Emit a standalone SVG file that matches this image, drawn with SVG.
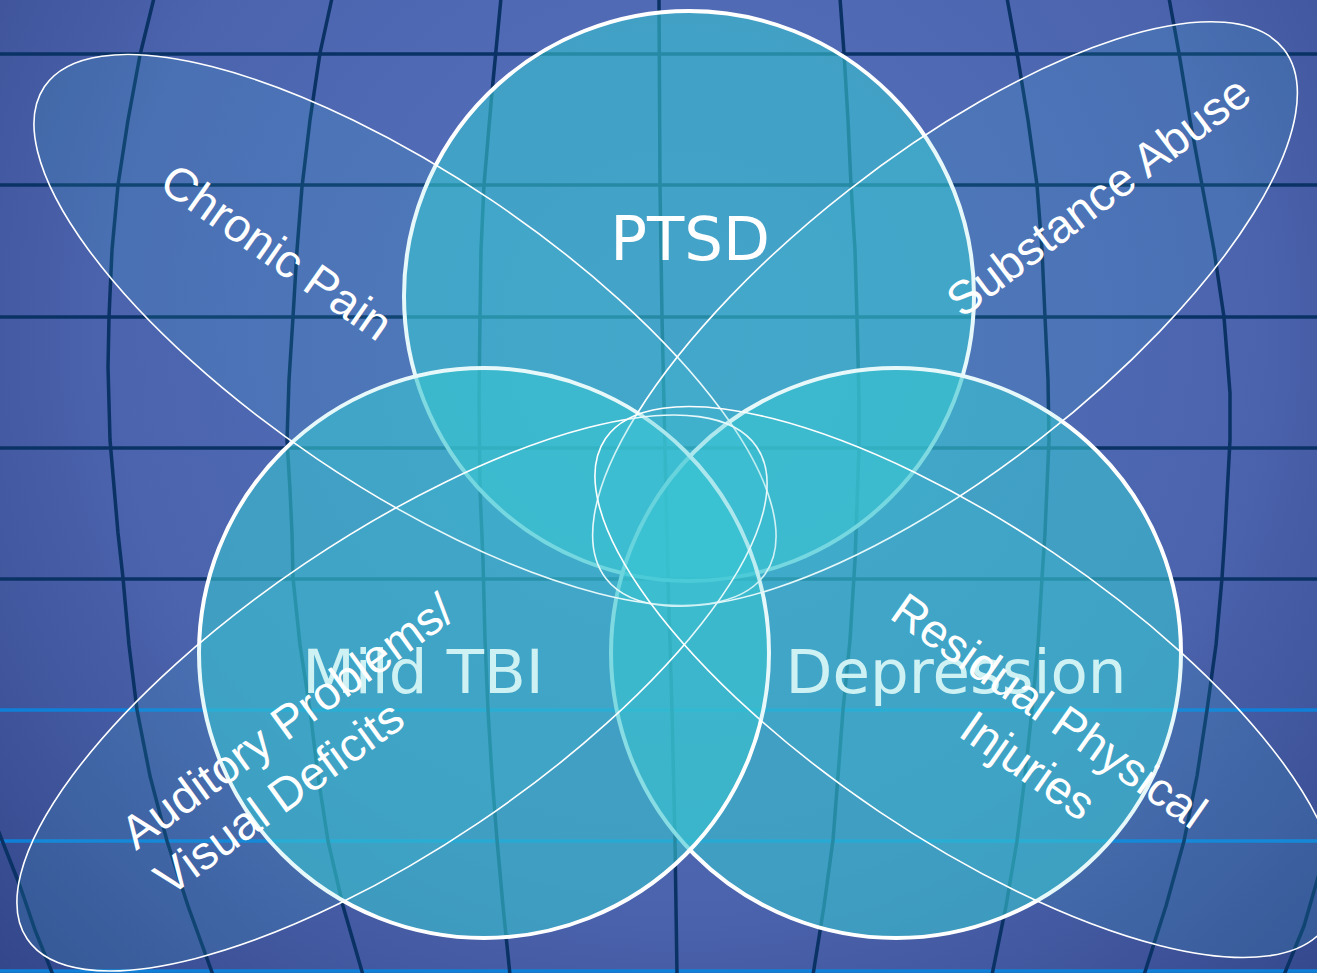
<svg xmlns="http://www.w3.org/2000/svg" width="1317" height="973" viewBox="0 0 1317 973">
<defs>
<radialGradient id="bg" cx="680" cy="330" r="940" gradientUnits="userSpaceOnUse">
<stop offset="0" stop-color="#5672be"/>
<stop offset="0.6" stop-color="#4c64ae"/>
<stop offset="1" stop-color="#33468a"/>
</radialGradient>
<style>
.vl{fill:none;stroke:#0a3264;stroke-width:3.5;stroke-linejoin:round;stroke-linecap:round}
.hl{stroke:#0a3264;stroke-width:3.5}
.hb{stroke:#0f80d8;stroke-width:3.5}
.circ{fill:#39c5d1;fill-opacity:0.6;stroke:#ffffff;stroke-width:4}
.ell{fill:#3cc8d8;fill-opacity:0.13;stroke:#ffffff;stroke-width:1.6}
.big{font-family:"DejaVu Sans",Verdana,sans-serif;font-size:61px;fill:#ffffff;text-anchor:middle}
.soft{fill:#e4f7f8}
.lab{font-family:"Liberation Sans",Arial,sans-serif;font-size:47px;fill:#ffffff}
</style>
</defs>
<rect width="1317" height="973" fill="url(#bg)"/>
<g id="grid">
<line class="hl" x1="0" y1="54" x2="1317" y2="54"/>
<line class="hl" x1="0" y1="185" x2="1317" y2="185"/>
<line class="hl" x1="0" y1="317" x2="1317" y2="317"/>
<line class="hl" x1="0" y1="448" x2="1317" y2="448"/>
<line class="hl" x1="0" y1="579" x2="1317" y2="579"/>
<line class="hb" x1="0" y1="710" x2="1317" y2="710"/>
<line class="hb" x1="0" y1="841" x2="1317" y2="841"/>
<line class="hb" x1="0" y1="971" x2="1317" y2="971"/>
<polyline class="vl" points="154,-2 140,55 128,120 118,185 112,250 109,317 108,367 110,440 118,533 123,578 129,645 137,710 150,776 167,841 188,906 213,975"/>
<polyline class="vl" points="332,-2 320,53 310,120 302,187 297,250 293,317 289,380 287,440 290,490 292,533 293,578 300,645 310,710 318,776 328,841 343,906 363,975"/>
<polyline class="vl" points="501,-2 492,92 484,185 481,250 480,317 479,400 480,490 483,560 485,640 488,710 492,776 497,840 503,906 510,975"/>
<polyline class="vl" points="659,-2 660,186 662,317 665,448 668,579 672,710 675,840 677,975"/>
<polyline class="vl" points="840,-2 844,53 848,120 851,185 855,250 857,317 859,400 859,448 855,560 850,640 843,710 838,776 833,840 824,906 813,975"/>
<polyline class="vl" points="1007,-2 1017,53 1028,120 1037,185 1042,250 1045,317 1048,380 1049,440 1045,533 1042,578 1038,645 1032,710 1025,776 1017,841 1006,906 992,975"/>
<polyline class="vl" points="1169,-2 1179,53 1190,120 1202,185 1214,250 1224,317 1230,393 1230,440 1225,533 1222,578 1216,645 1207,710 1197,776 1184,841 1166,906 1144,975"/>
<polyline class="vl" points="-2,830 20,886 35,930 53,975"/>
<polyline class="vl" points="1319,874 1304,926 1284,975"/>
</g>
<g id="node-ptsd">
<circle class="circ" cx="689" cy="296" r="285"/>
<text class="big" x="690" y="260">PTSD</text>
</g>
<g id="node-depression">
<circle class="circ" cx="896" cy="653" r="285"/>
<text class="big soft" x="956" y="693">Depression</text>
</g>
<g id="node-mild-tbi">
<circle class="circ" cx="484" cy="653" r="285"/>
<text class="big soft" x="423" y="693">Mild TBI</text>
</g>
<g id="node-chronic-pain">
<ellipse class="ell" cx="405" cy="330" rx="435" ry="156" transform="rotate(34 405 330)"/>
<text class="lab" text-anchor="middle" transform="translate(276 253) rotate(35)" x="0" y="15">Chronic Pain</text>
</g>
<g id="node-substance-abuse">
<ellipse class="ell" cx="945" cy="314" rx="430" ry="157" transform="rotate(-38 945 314)"/>
<text class="lab" text-anchor="middle" transform="translate(1099 197) rotate(-37)" x="0" y="15">Substance Abuse</text>
</g>
<g id="node-auditory-visual">
<ellipse class="ell" cx="392" cy="693" rx="440" ry="156" transform="rotate(-34 392 693)"/>
<text class="lab" transform="translate(136 851) rotate(-36)"><tspan x="0" y="0">Auditory Problems/</tspan><tspan x="0" y="57">Visual Deficits</tspan></text>
</g>
<g id="node-residual-injuries">
<ellipse class="ell" cx="966" cy="682" rx="435" ry="156" transform="rotate(34 966 682)"/>
<text class="lab" text-anchor="middle" transform="translate(1040 724) rotate(35)"><tspan x="0" y="0">Residual Physical</tspan><tspan x="14" y="57">Injuries</tspan></text>
</g>
<g id="connectors"/>
</svg>
